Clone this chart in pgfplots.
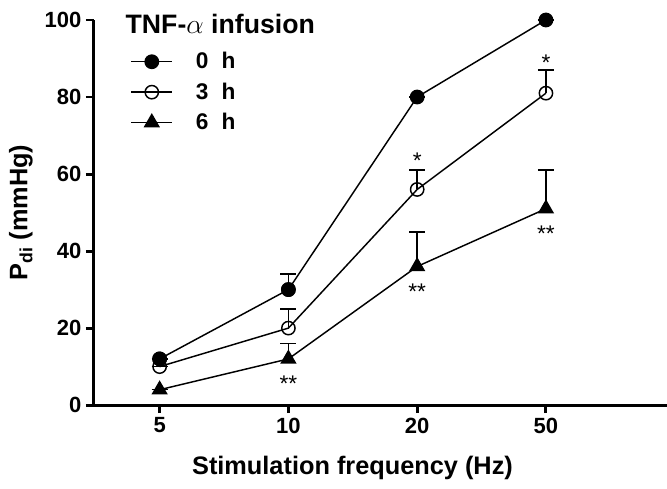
\documentclass[border=0pt]{standalone}
\usepackage{pgfplots}
\pgfplotsset{compat=1.18}
\usepackage{fontspec}
\setmainfont{Liberation Sans}
\begin{document}
\begin{tikzpicture}
\begin{axis}[
  name=ax,
  scale only axis,
  width=430pt, height=289pt,
  xmin=-0.51, xmax=3.94,
  ymin=0, ymax=100,
  axis x line*=bottom,
  axis y line*=left,
  axis line style={line width=2.2pt, -},
  xtick={0,1,2,3},
  xticklabels={5,10,20,50},
  ytick={0,20,40,60,80,100},
  tick align=outside,
  major tick length=6pt,
  tick style={line width=2.2pt, black},
  /pgf/number format/assume math mode=true,
  tick label style={font=\fontsize{16.5}{18}\selectfont\bfseries},
  xlabel={\textbf{Stimulation frequency (Hz)}},
  ylabel={\textbf{P\textsubscript{di} (mmHg)}},
  label style={font=\fontsize{19}{22}\selectfont},
  xlabel style={yshift=-10pt, xshift=-21pt},
  ylabel style={yshift=2pt},
  legend style={draw=none, fill=none, at={(axis cs:-0.26,93)}, anchor=north west,
    font=\fontsize{17}{19}\selectfont\bfseries, row sep=5pt,
    /tikz/every odd column/.append style={column sep=15pt}},
  legend cell align=left,
  legend image code/.code={
    \draw[line width=1.1pt, #1] (0pt,0pt) -- (31pt,0pt);
    \draw[#1, mark repeat=1] plot coordinates {(15.5pt,0pt)};
  },
  clip=false,
  every axis plot/.append style={line width=1.1pt, black, mark size=5pt,
    error bars/y dir=plus, error bars/y explicit,
    error bars/error mark options={rotate=90, mark size=6pt, line width=1.1pt},
    error bars/error bar style={line width=1.1pt}},
]
\addplot[mark=*, mark options={fill=black}] coordinates {
  (0,12) +- (0,0)
  (1,30) +- (0,4)
  (2,80) +- (0,0)
  (3,100) +- (0,0)
};
\addlegendentry{0\hspace{0.3em} h}
\addplot[mark=o, mark options={fill=white}] coordinates {
  (0,10) +- (0,0)
  (1,20) +- (0,5)
  (2,56) +- (0,5)
  (3,81) +- (0,6)
};
\addlegendentry{3\hspace{0.3em} h}
\addplot[mark=triangle*, mark options={fill=black, mark size=6pt}] coordinates {
  (0,4) +- (0,0)
  (1,12) +- (0,4)
  (2,36) +- (0,9)
  (3,51) +- (0,10)
};
\addlegendentry{6\hspace{0.3em} h}
\addplot[only marks, mark=*, mark options={fill=black}, forget plot] coordinates {
  (0,12) (1,30)
};
\node[anchor=west, font=\fontsize{20}{21}\selectfont\bfseries] at (axis cs:-0.3,99) {TNF-$\alpha$ infusion};
\node[font=\fontsize{17}{18}\selectfont] at (axis cs:2,63.5) {*};
\node[font=\fontsize{17}{18}\selectfont] at (axis cs:3,89) {*};
\node[font=\fontsize{17}{18}\selectfont] at (axis cs:1,5.5) {**};
\node[font=\fontsize{17}{18}\selectfont] at (axis cs:2,29.5) {**};
\node[font=\fontsize{17}{18}\selectfont] at (axis cs:3,44.5) {**};
\end{axis}
\pgfresetboundingbox
\path ([xshift=-70.5pt, yshift=-62.25pt] ax.south west) rectangle ([yshift=15pt] ax.north east);
\end{tikzpicture}
\end{document}
